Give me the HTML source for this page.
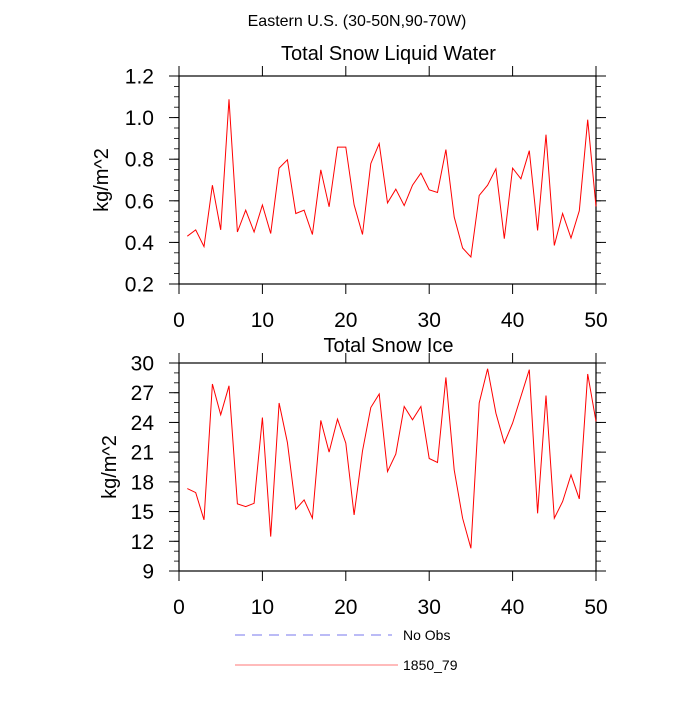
<!DOCTYPE html>
<html><head><meta charset="utf-8"><style>
body{margin:0;background:#fff;}
svg text{font-family:"Liberation Sans",sans-serif;fill:#000;}
</style></head><body>
<svg id="chart" width="700" height="700" xmlns="http://www.w3.org/2000/svg">
<text x="357" y="26" font-size="16" text-anchor="middle">Eastern U.S. (30-50N,90-70W)</text>
<g id="legend">
<line x1="235" y1="635" x2="392" y2="635" stroke="#7777ee" stroke-width="1" stroke-dasharray="10,7"/>
<text x="403" y="640" font-size="14">No Obs</text>
<line x1="235" y1="665" x2="398" y2="665" stroke="#ff7777" stroke-width="1"/>
<text x="403" y="670" font-size="14">1850_79</text>
</g>
</svg>
<script>
const years = Array.from({length:50},(_,i)=>i+1);
const liquidWater = [0.43,0.46,0.38,0.675,0.46,1.088,0.45,0.555,0.45,0.58,0.443,0.757,0.797,0.539,0.555,0.438,0.749,0.571,0.858,0.858,0.581,0.438,0.779,0.875,0.59,0.656,0.577,0.675,0.733,0.653,0.64,0.846,0.522,0.373,0.33,0.626,0.675,0.754,0.418,0.757,0.706,0.841,0.457,0.918,0.385,0.539,0.421,0.552,0.99,0.573];
const snowIce = [17.32,16.92,14.16,27.88,24.77,27.7,15.77,15.5,15.84,24.5,12.47,25.96,21.97,15.24,16.18,14.33,24.2,21.0,24.34,21.91,14.66,21.13,25.51,26.87,19.04,20.8,25.61,24.27,25.61,20.36,19.95,28.55,19.21,14.33,11.29,25.96,29.42,24.94,21.91,23.93,26.62,29.32,14.83,26.72,14.33,16.01,18.7,16.28,28.89,24.1];
const xTicks = [0,10,20,30,40,50];
const yTicksTop = [0.2,0.4,0.6,0.8,1.0,1.2];
const yTickLabelsTop = ["0.2","0.4","0.6","0.8","1.0","1.2"];
const yTicksBot = [9,12,15,18,21,24,27,30];

const svg=document.getElementById('chart');
const NS='http://www.w3.org/2000/svg';
function el(tag,attrs,parent){const e=document.createElementNS(NS,tag);for(const k in attrs)e.setAttribute(k,attrs[k]);(parent||svg).appendChild(e);return e;}

function panel(cfg){
  const g=el('g',{});
  
  
  const L=179,R=596,T=cfg.top,B=cfg.bottom;
  const sx=v=>L+(v-0)/(50-0)*(R-L);
  const sy=v=>B-(v-cfg.ymin)/(cfg.ymax-cfg.ymin)*(B-T);
  for(let v=cfg.ymin; v<=cfg.ymax+1e-9; v+=cfg.minor){
    const y=sy(v);
    const m1=el('line',{x1:L-5,x2:L,y1:y,y2:y,stroke:'#000','stroke-width':0.8},g);
    
    
    const m2=el('line',{x1:R,x2:R+5,y1:y,y2:y,stroke:'#000','stroke-width':0.8},g);
    
    
  }
  cfg.yt.forEach((v,i)=>{
    const y=sy(v);
    const t1=el('line',{x1:L-10,x2:L,y1:y,y2:y,stroke:'#000','stroke-width':1},g);
    
    
    const t2=el('line',{x1:R,x2:R+10,y1:y,y2:y,stroke:'#000','stroke-width':1},g);
    
    
    const tx=el('text',{x:L-25,y:y+7.5,'font-size':21,'text-anchor':'end'},g);
    tx.textContent=cfg.ytl[i];
    
    
  });
  xTicks.forEach(v=>{
    const x=sx(v);
    const a=el('line',{x1:x,x2:x,y1:T-10,y2:T,stroke:'#000','stroke-width':1},g);
    
    
    const b=el('line',{x1:x,x2:x,y1:B,y2:B+10,stroke:'#000','stroke-width':1},g);
    
    
    const tx=el('text',{x:x,y:B+43,'font-size':21,'text-anchor':'middle'},g);
    tx.textContent=String(v);
    
    
  });
  const fr=el('rect',{x:L,y:T,width:R-L,height:B-T,fill:'none',stroke:'#000','stroke-width':1.2},g);
  
  
  const pts=years.map((yr,i)=>sx(yr).toFixed(1)+','+sy(cfg.data[i]).toFixed(1)).join(' ');
  const pl=el('polyline',{points:pts,fill:'none',stroke:'#ff0000','stroke-width':1},g);
  
  
  const ti=el('text',{x:(L+R)/2+1,y:cfg.titleY,'font-size':20,'text-anchor':'middle'},g);
  ti.textContent=cfg.title;
  
  
  const yl=el('text',{x:0,y:0,'font-size':20,'text-anchor':'middle',transform:`translate(${cfg.ylx},${(T+B)/2}) rotate(-90)`},g);
  yl.textContent='kg/m^2';
  
  
}
panel({name:'liquid-water-panel',top:76,bottom:284,ymin:0.2,ymax:1.2,minor:0.05,yt:yTicksTop,ytl:yTickLabelsTop,data:liquidWater,title:'Total Snow Liquid Water',titleY:60,ylx:108});
panel({name:'snow-ice-panel',top:363,bottom:571,ymin:9,ymax:30,minor:1,yt:yTicksBot,ytl:yTicksBot.map(String),data:snowIce,title:'Total Snow Ice',titleY:352,ylx:116});
</script>
</body></html>
